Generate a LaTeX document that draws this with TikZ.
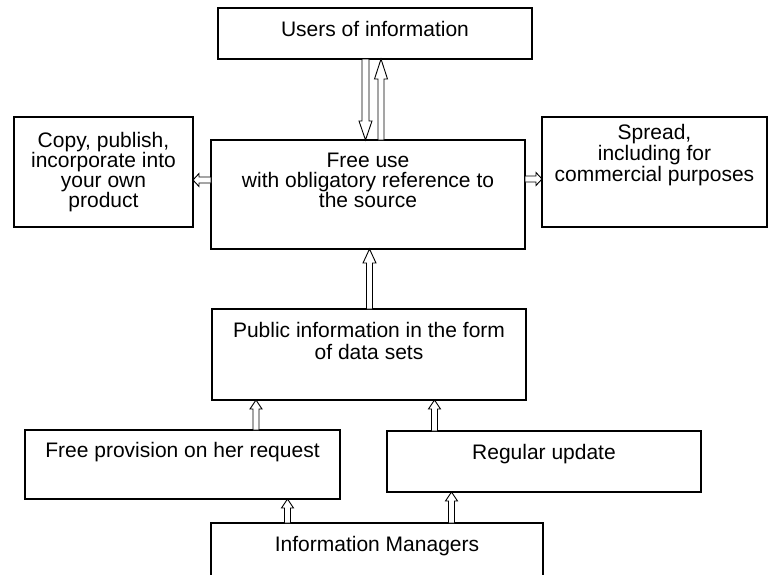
\documentclass[tikz,border=0pt]{standalone}
\usepackage{fontspec}
\setmainfont{Liberation Sans}
\usetikzlibrary{calc}
% hollow block arrow: #1 start, #2 tip, #3 shaft half-width, #4 head half-width, #5 head length
\newcommand{\hollowarrow}[5]{%
  \path (#1) coordinate (ha-s) (#2) coordinate (ha-t);
  \path ($(ha-t)!#5!(ha-s)$) coordinate (ha-h);
  \draw[arrowline]
    ($(ha-s)!#3!90:(ha-t)$) -- ($(ha-h)!#3!90:(ha-t)$) -- ($(ha-h)!#4!90:(ha-t)$)
    -- (ha-t)
    -- ($(ha-h)!#4!-90:(ha-t)$) -- ($(ha-h)!#3!-90:(ha-t)$) -- ($(ha-s)!#3!-90:(ha-t)$) -- cycle;
}
\begin{document}
\begin{tikzpicture}[x=1pt,y=-1pt,
  box/.style={draw, line width=1.1pt, inner sep=0pt, outer sep=0pt},
  txt/.style={font=\fontsize{21}{20}\selectfont, align=center, inner sep=0pt, anchor=north},
  arrowline/.style={draw=black, fill=white, line width=0.9pt, line join=miter}]
\useasboundingbox (0,0) rectangle (770,574);
\fill[white] (0,0) rectangle (770,574);
\clip (0,0) rectangle (770,574);

% boxes
\node[box, minimum width=314pt, minimum height=51pt]  (users)    at (375,33.5)  {};
\node[box, minimum width=314pt, minimum height=109pt] (free)     at (368,194.5) {};
\node[box, minimum width=179pt, minimum height=110pt] (copy)     at (103.5,172) {};
\node[box, minimum width=225pt, minimum height=110pt] (spread)   at (654.5,172) {};
\node[box, minimum width=314pt, minimum height=91pt]  (public)   at (369,354.5) {};
\node[box, minimum width=315pt, minimum height=69pt]  (freeprov) at (182.5,464.5) {};
\node[box, minimum width=314pt, minimum height=61pt]  (regular)  at (544,461.5) {};
\node[box, minimum width=332pt, minimum height=77pt]  (managers) at (377,561.5) {};

% texts
\node[txt] (usersT)    at (375,20.7)   {Users of information};
\node[txt] (freeT)     at (368,152.7)  {Free use\\with obligatory reference to\\the source};
\node[txt] (copyT)     at (103.5,131.7){Copy, publish,\\incorporate into\\your own\\product};
\node[txt, font=\fontsize{21}{21}\selectfont] (spreadT) at (654.5,123.7) {Spread,\\including for\\commercial purposes};
\node[txt, font=\fontsize{21}{22}\selectfont] (publicT) at (369,321.7) {Public information in the form\\of data sets};
\node[txt] (freeprovT) at (182.5,441.7){Free provision on her request};
\node[txt] (regularT)  at (544,443.7)  {Regular update};
\node[txt] (managersT) at (377,535.7)  {Information Managers};

% x / y positions of the arrows
\coordinate (xa) at (365.5,0);
\coordinate (xb) at (381,0);
\coordinate (xc) at (369.5,0);
\coordinate (xd) at (256,0);
\coordinate (xe) at (434.5,0);
\coordinate (xf) at (287.5,0);
\coordinate (xg) at (451.5,0);
\coordinate (yl) at (0,180);
\coordinate (yr) at (0,179);

% arrows
\hollowarrow{users.south -| xa}{free.north -| xa}{3.5pt}{6.5pt}{19pt}
\hollowarrow{free.north -| xb}{users.south -| xb}{3pt}{6.5pt}{20pt}
\hollowarrow{public.north -| xc}{free.south -| xc}{3pt}{6.5pt}{14pt}
\hollowarrow{freeprov.north -| xd}{public.south -| xd}{3pt}{6pt}{9pt}
\hollowarrow{regular.north -| xe}{public.south -| xe}{3pt}{6pt}{9pt}
\hollowarrow{managers.north -| xf}{freeprov.south -| xf}{3pt}{6pt}{9pt}
\hollowarrow{managers.north -| xg}{regular.south -| xg}{3pt}{6pt}{9pt}
\hollowarrow{free.west |- yl}{copy.east |- yl}{3pt}{6.5pt}{6pt}
\hollowarrow{free.east |- yr}{spread.west |- yr}{3pt}{6.5pt}{6pt}
\end{tikzpicture}
\end{document}
